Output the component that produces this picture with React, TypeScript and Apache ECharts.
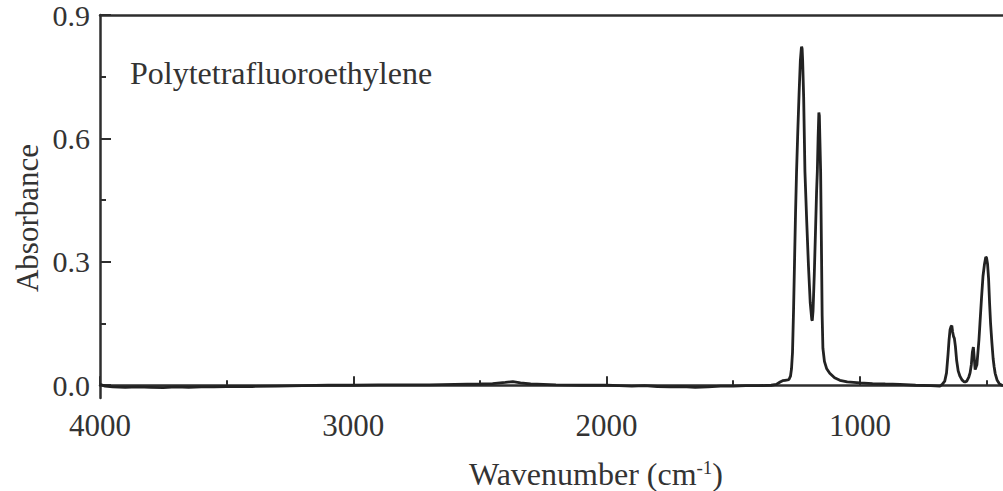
import React, { useEffect, useRef } from "react";
import * as echarts from "echarts";

const wavenumbers = [
  4000, 3980, 3950, 3900, 3850, 3800, 3750, 3700, 3650, 3600, 3550, 3500, 3400, 3300, 3200, 3100, 3000,
  2900, 2800, 2700, 2600, 2500, 2450, 2400, 2370, 2340, 2300, 2200, 2100, 2000, 1950, 1900, 1850, 1800,
  1750, 1700, 1650, 1600, 1550, 1500, 1450, 1400, 1350, 1330, 1315, 1305, 1295, 1285, 1280, 1274, 1270,
  1266, 1262, 1258, 1254, 1250, 1245, 1240, 1235, 1231, 1230, 1228, 1226, 1222, 1217, 1210, 1203, 1196,
  1190, 1188, 1185, 1180, 1175, 1171, 1168, 1165, 1162, 1160, 1158, 1155, 1152, 1149, 1146, 1140, 1131,
  1119, 1100, 1079, 1050, 1000, 950, 900, 842, 780, 720, 684, 675, 665, 658, 652, 648, 644, 640, 637,
  634, 630, 627, 623, 618, 612, 605, 597, 590, 585, 578, 570, 565, 560, 556, 552, 549, 545, 541, 538,
  534, 530, 526, 520, 514, 508, 503, 500, 496, 492, 488, 484, 479, 474, 470, 466, 458, 450, 440, 435,
];

const absorbance = [
  0.002, -0.002, -0.004, -0.005, -0.004, -0.005, -0.006, -0.004, -0.005, -0.004, -0.004, -0.003, -0.003,
  -0.002, -0.001, 0.0, 0.0, 0.001, 0.001, 0.001, 0.002, 0.003, 0.004, 0.007, 0.009, 0.006, 0.003, 0.001,
  0.0, 0.0, -0.001, -0.002, -0.001, -0.003, -0.004, -0.003, -0.005, -0.004, -0.002, -0.002, -0.001,
  -0.001, 0.0, 0.002, 0.008, 0.011, 0.012, 0.013, 0.014, 0.022, 0.04, 0.08, 0.18, 0.3, 0.42, 0.52, 0.62,
  0.71, 0.79, 0.82, 0.823, 0.818, 0.79, 0.7, 0.52, 0.4, 0.29, 0.2, 0.16, 0.157, 0.18, 0.27, 0.38, 0.47,
  0.52, 0.6, 0.663, 0.655, 0.6, 0.52, 0.35, 0.17, 0.09, 0.058, 0.04, 0.029, 0.018, 0.012, 0.008,
  0.0056, 0.004, 0.003, 0.002, 0.0, -0.001, -0.002, 0.002, 0.01, 0.03, 0.075, 0.11, 0.135, 0.143, 0.145,
  0.13, 0.118, 0.114, 0.095, 0.06, 0.035, 0.022, 0.013, 0.009, 0.008, 0.01, 0.02, 0.03, 0.05, 0.08,
  0.093, 0.07, 0.038, 0.045, 0.05, 0.08, 0.11, 0.15, 0.21, 0.265, 0.295, 0.312, 0.31, 0.295, 0.26, 0.2,
  0.15, 0.105, 0.065, 0.045, 0.029, 0.012, 0.004, 0.0, -0.001,
];

const xMajorTicks = [4000, 3000, 2000, 1000];
const xMinorTicks = [3500, 2500, 1500, 500];
const yMajorTicks = [0, 0.3, 0.6, 0.9];
const yMinorTicks = [0.15, 0.45, 0.75];

const sampleName = "Polytetrafluoroethylene";
const xTitle = "Wavenumber (cm";
const yTitle = "Absorbance";

const FONT = "Liberation Serif";
const AXIS = "#2e2e2e";
const TXT = "#333";

export default function App() {
  const ref = useRef<HTMLDivElement>(null);
  useEffect(() => {
    if (!ref.current) return;
    const chart = echarts.init(ref.current, null, { renderer: "svg" });
    const data = wavenumbers.map((w, i) => [w, absorbance[i]]);
    const xRange = { min: 435, max: 4000 };
    const yRange = { min: -0.031, max: 0.9 };
    const common = { type: "value" as const, splitLine: { show: false } };
    chart.setOption({
      animation: false,
      backgroundColor: "#fff",
      textStyle: { fontFamily: FONT },
      grid: { left: 100, right: 0, top: 13, bottom: 93, containLabel: false },
      xAxis: [
        {
          ...common,
          ...xRange,
          inverse: true,
          position: "bottom",
          axisLine: { show: true, lineStyle: { color: AXIS, width: 2.5 } },
          axisTick: { show: true, inside: true, length: 9, customValues: xMajorTicks, lineStyle: { color: AXIS, width: 2 } },
          axisLabel: { show: true, customValues: xMajorTicks, margin: 12, fontFamily: FONT, fontSize: 31, color: TXT, formatter: (v: number) => String(v) },
        },
        {
          ...common,
          ...xRange,
          inverse: true,
          position: "bottom",
          axisLine: { show: false },
          axisTick: { show: true, inside: true, length: 5, customValues: xMinorTicks, lineStyle: { color: AXIS, width: 2 } },
          axisLabel: { show: false },
        },
        {
          ...common,
          ...xRange,
          inverse: true,
          position: "top",
          axisLine: { show: true, onZero: false, lineStyle: { color: AXIS, width: 2.5 } },
          axisTick: { show: false },
          axisLabel: { show: false },
        },
      ],
      yAxis: [
        {
          ...common,
          ...yRange,
          axisLine: { show: true, onZero: false, lineStyle: { color: AXIS, width: 2.5 } },
          axisTick: { show: true, inside: true, length: 11, customValues: yMajorTicks, lineStyle: { color: AXIS, width: 2 } },
          axisLabel: { show: true, customValues: yMajorTicks, margin: 10, fontFamily: FONT, fontSize: 30, color: TXT, formatter: (v: number) => v.toFixed(1) },
        },
        {
          ...common,
          ...yRange,
          position: "left",
          axisLine: { show: false },
          axisTick: { show: true, inside: true, length: 6, customValues: yMinorTicks, lineStyle: { color: AXIS, width: 2 } },
          axisLabel: { show: false },
        },
      ],
      series: [
        {
          type: "line",
          data,
          xAxisIndex: 0,
          yAxisIndex: 0,
          showSymbol: false,
          symbol: "none",
          lineStyle: { color: "#222", width: 2.8 },
          clip: true,
        },
      ],
      graphic: [
        {
          type: "text",
          left: 130,
          top: 57,
          style: { text: sampleName, fontFamily: FONT, fontSize: 32, fill: TXT },
        },
        {
          type: "text",
          x: 596,
          y: 474,
          style: {
            text: `{a|${xTitle}}{s|-1}{a|)}`,
            align: "center",
            verticalAlign: "middle",
            rich: {
              a: { fontFamily: FONT, fontSize: 32, fill: TXT },
              s: { fontFamily: FONT, fontSize: 19, fill: TXT, verticalAlign: "top", padding: [0, 0, 14, 0] },
            },
          },
        },
        {
          type: "text",
          x: 27,
          y: 218,
          rotation: Math.PI / 2,
          style: { text: yTitle, fontFamily: FONT, fontSize: 31, fill: TXT, align: "center", verticalAlign: "middle" },
        },
      ],
    });
    return () => chart.dispose();
  }, []);
  return <div ref={ref} style={{ position: "fixed", left: 0, top: 0, width: 1003, height: 491 }} />;
}
